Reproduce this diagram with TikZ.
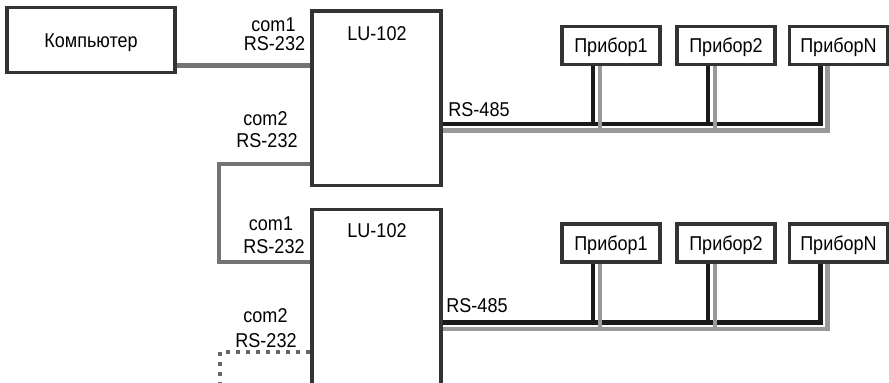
\documentclass[tikz,border=0pt]{standalone}
\usepackage{fontspec}
\setmainfont{Liberation Sans}[FakeStretch=0.9]

\begin{document}
\begin{tikzpicture}[x=0.02cm,y=-0.02cm,
  every node/.style={font=\fontsize{11.4}{12}\selectfont},
  box/.style={draw=black!80,line width=2.2pt,fill=white,inner sep=0pt},
  dev/.style={box,minimum width=1.96cm,minimum height=0.76cm,text height=8pt,text depth=0pt},
  txt/.style={anchor=base,inner sep=0pt},
  busk/.style={black!90,line width=2.6pt},
  busg/.style={black!40,line width=2.6pt},
  link/.style={black!55,line width=2.5pt},
  dots/.style={black!60,line width=2.4pt,dash pattern=on 2.3pt off 3.4pt}]
\useasboundingbox (0,0) rectangle (889,382);
\clip (0,0) rectangle (889,382);

\node[box,minimum width=3.35cm,minimum height=1.3cm,text height=8pt,text depth=0pt] (pc) at (91,40) {Компьютер\hspace{7pt}};
\node[box,minimum width=2.58cm,minimum height=3.49cm] (lua) at (376.5,98.25) {};
\node[box,minimum width=2.58cm,minimum height=3.6cm] (lub) at (376.5,299.5) {};
\node[txt] (ta) at (377,40) {LU-102};
\node[txt] (tb) at (377,237) {LU-102};

\foreach \x/\n/\t in {611/1/Прибор1,726/2/Прибор2,838.5/N/ПриборN}{
  \node[dev] (pa\n) at (\x,45.5) {\t};
  \node[dev] (pb\n) at (\x,243) {\t};
}

% RS-485 lines
\foreach \row/\yk/\yg in {a/124/130.5,b/322.5/329}{
  \coordinate (k\row) at (lu\row.east |- 0,\yk);
  \coordinate (g\row) at (lu\row.east |- 0,\yg);
  \draw[busk] (k\row) -| ([xshift=-0.36cm]p\row N.south);
  \foreach \n in {1,2}
    \draw[busk] ([xshift=-0.36cm]p\row\n.south) -- ([xshift=-0.36cm]p\row\n.south |- k\row);
  \draw[busg] (g\row) -| ([xshift=-0.22cm]p\row N.south);
  \foreach \n in {1,2}
    \draw[busg] ([xshift=-0.22cm]p\row\n.south) -- ([xshift=-0.22cm]p\row\n.south |- g\row);
}
\node[txt] (sa) at (479,116) {RS-485};
\node[txt] (sb) at (477,312) {RS-485};

% RS-232 links
\coordinate (c1a) at (lua.west |- 0,65.5);
\coordinate (c2a) at (lua.west |- 0,164);
\coordinate (c1b) at (lub.west |- 0,262);
\coordinate (c2b) at (lub.west |- 0,352);
\draw[link] (pc.east |- c1a) -- (c1a);
\draw[link] (c2a) -- ++(-91,0) |- (c1b);
\draw[dots] (c2b) -- ++(-90,0) -- ++(0,40);

\node[txt] (l1a) at (273.5,31.5) {com1};
\node[txt] (r1a) at (274.5,50.5) {RS-232};
\node[txt] (l2a) at (265.5,125) {com2};
\node[txt] (r2a) at (267,147) {RS-232};
\node[txt] (l1b) at (271,230) {com1};
\node[txt] (r1b) at (274,253) {RS-232};
\node[txt] (l2b) at (265.5,322) {com2};
\node[txt] (r2b) at (266,347) {RS-232};
\end{tikzpicture}
\end{document}
